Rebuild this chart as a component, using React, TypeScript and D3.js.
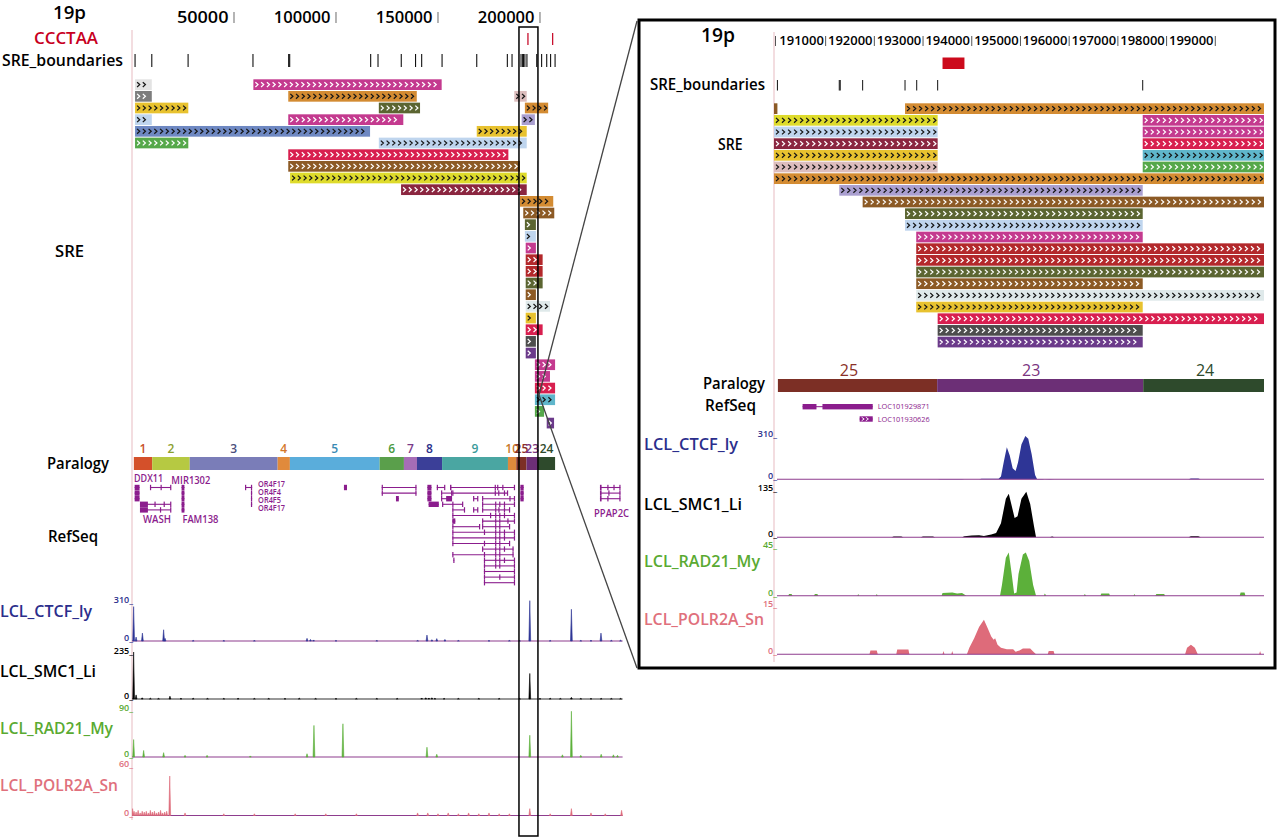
import React from 'react';
import * as d3 from 'd3';

// ---------------- DATA ----------------
const LEFT_DOMAIN = [0, 240500];
const RIGHT_DOMAIN = [189940, 200000];

const LEFT_TICKS = [50000, 100000, 150000, 200000];
const RIGHT_TICKS = [191000, 192000, 193000, 194000, 195000, 196000, 197000, 198000, 199000];

const CCCTAA_LEFT = [194100, 206200];
const CCCTAA_RIGHT: [number, number][] = [[193400, 193850]];

const BOUNDARIES_LEFT = [1500, 9700, 27500, 59300, 76800, 77300, 117000, 120600, 132000, 139000, 142000,
  152000, 169000, 184000, 186300, 190700, 191500, 191900, 192600, 193600, 198400, 200800, 203300, 205200, 207400];
const BOUNDARIES_RIGHT = [190010, 191280, 191300, 191760, 192630, 192870, 193300, 197510];

// [row, family, start, end]
const SRE_LEFT: [number, string, number, number][] = [
  [0, 'gray', 1500, 9700], [0, 'magenta', 59500, 151800],
  [1, 'darkgray', 1500, 9700], [1, 'ochre', 76600, 139600], [1, 'rose', 187400, 193500],
  [2, 'gold', 1500, 27600], [2, 'olive', 121000, 141200], [2, 'ochre', 192600, 204000],
  [3, 'lightblue', 1500, 9700], [3, 'magenta', 76600, 133000], [3, 'lavender', 191000, 197500],
  [4, 'steel', 1500, 116700], [4, 'gold', 169000, 193500],
  [5, 'green', 1500, 27600], [5, 'lightblue', 121000, 193500],
  [6, 'crimson', 76600, 184500],
  [7, 'brown', 76600, 190200],
  [8, 'lime', 77500, 193500],
  [9, 'maroon', 131900, 193500],
  [10, 'ochre', 190200, 206500],
  [11, 'brown', 191800, 207000],
  [12, 'olive', 192600, 198000],
  [13, 'lightblue', 192600, 198000],
  [14, 'magenta', 193000, 198000],
  [15, 'firebrick', 193000, 201300],
  [16, 'firebrick', 193000, 201300],
  [17, 'olive', 193000, 201300],
  [18, 'brown', 193000, 198000],
  [19, 'azure', 193000, 204900],
  [20, 'gold', 193000, 198000],
  [21, 'crimson', 193000, 201300],
  [22, 'charcoal', 193000, 198000],
  [23, 'purple', 193000, 198000],
  [24, 'magenta', 197500, 207400],
  [25, 'magenta', 197500, 204900],
  [26, 'crimson', 197500, 207400],
  [27, 'teal', 197500, 207400],
  [28, 'green', 197500, 202000],
  [29, 'purple', 203300, 206900],
];

const SRE_RIGHT: [number, string, number, number][] = [
  [0, 'brown', 189940, 190010], [0, 'ochre', 192630, 200000],
  [1, 'lime', 189940, 193300], [1, 'magenta', 197510, 200000],
  [2, 'lightblue', 189940, 193300], [2, 'magenta', 197510, 200000],
  [3, 'maroon', 189940, 193300], [3, 'crimson', 197510, 200000],
  [4, 'gold', 189940, 193300], [4, 'teal', 197510, 200000],
  [5, 'rose', 189940, 193300], [5, 'green', 197510, 200000],
  [6, 'ochre', 189940, 200000],
  [7, 'lavender', 191280, 197510],
  [8, 'brown', 191760, 200000],
  [9, 'olive', 192630, 197510],
  [10, 'lightblue', 192630, 197510],
  [11, 'magenta', 192860, 197510],
  [12, 'firebrick', 192860, 200000],
  [13, 'firebrick', 192860, 200000],
  [14, 'olive', 192860, 200000],
  [15, 'brown', 192860, 197510],
  [16, 'azure', 192860, 200000],
  [17, 'gold', 192860, 197510],
  [18, 'crimson', 193300, 200000],
  [19, 'charcoal', 193300, 197510],
  [20, 'purple', 193300, 197510],
];

// [label, start, end]
const PARALOGY_LEFT: [string, number, number][] = [
  ['1', 900, 9900], ['2', 9900, 28300], ['3', 28300, 71400], ['4', 71400, 77400], ['5', 77400, 121400],
  ['6', 121400, 133300], ['7', 133300, 139700], ['8', 139700, 152000], ['9', 152000, 184300],
  ['10', 184300, 188400], ['25', 188400, 193400], ['23', 193400, 199000], ['24', 199000, 207400],
];
// [label, start, end, label position]
const PARALOGY_RIGHT: [string, number, number, number][] = [
  ['25', 190020, 193290, 191480], ['23', 193290, 197520, 195220], ['24', 197520, 200000, 198790],
];

// RefSeq transcripts: [row, start, end, exons]
const REFSEQ_LEFT: [number, number, number, [number, number][]][] = [
  [0, 1300, 3700, [[1300, 3700]]], [1, 1300, 3700, [[1300, 3700]]], [2, 1300, 3700, [[1300, 3700]]],
  [0, 8800, 19100, [[8800, 9300], [14000, 14500], [18700, 19100]]],
  [3, 3900, 19100, [[3900, 7800], [11000, 11400], [15500, 15900], [18700, 19100]]],
  [4, 3900, 19100, [[3900, 7800], [13700, 14100], [18700, 19100]]],
  [0, 24300, 25700, [[24300, 25700]]], [1, 24300, 25700, [[24300, 25700]]], [2, 24300, 25700, [[24300, 25700]]],
  [3, 24300, 25700, [[24300, 25700]]], [4, 24300, 25700, [[24300, 25700]]],
  [0, 55400, 58900, [[55400, 55700], [58300, 58900]]], [1, 58300, 58900, [[58300, 58900]]],
  [2, 58300, 58900, [[58300, 58900]]], [3, 58300, 58900, [[58300, 58900]]],
  [0, 103900, 105400, [[103900, 105400]]],
  [0, 122400, 139400, [[122400, 122900], [138900, 139400]]],
  [1, 122400, 139400, [[122400, 122900], [138900, 139400]]],
  [2, 129400, 130800, [[129400, 130800]]],
  [0, 144800, 146800, [[144800, 146800]]], [1, 144800, 146800, [[144800, 146800]]],
  [2, 144800, 146800, [[144800, 146800]]], [3, 145400, 150400, [[145400, 150400]]],
  [0, 149400, 153400, [[149400, 149800], [153000, 153400]]],
  [0, 155900, 187700, [[155900, 156600], [177800, 178300], [179000, 179500], [181500, 182000], [187200, 187700]]],
  [1, 151500, 156900, [[151500, 152000], [156400, 156900]]],
  [1, 157000, 184300, [[157000, 157500], [177800, 178300], [179500, 180000], [182300, 182800], [183800, 184300]]],
  [2, 151500, 156900, [[151500, 152000], [154000, 156900]]],
  [2, 167200, 169600, [[167200, 167600], [169200, 169600]]],
  [2, 171600, 187700, [[171600, 172100], [185000, 185500], [187200, 187700]]],
  [3, 152000, 162300, [[152000, 152500], [157000, 157500], [161800, 162300]]],
  [3, 171600, 187700, [[171600, 172100], [178000, 178500], [180000, 180500], [182300, 182800], [187200, 187700]]],
  [4, 157000, 163200, [[157000, 157500], [162700, 163200]]],
  [4, 167200, 169600, [[167200, 167600], [169200, 169600]]],
  [4, 171600, 185300, [[171600, 172100], [178000, 178500], [179600, 180100], [182300, 182800], [184800, 185300]]],
  [5, 157000, 187700, [[157000, 157500], [175500, 176000], [178000, 178500], [180000, 180500], [182300, 182800], [187200, 187700]]],
  [6, 157000, 158500, [[157000, 158500]]],
  [6, 171600, 187700, [[171600, 172100], [178000, 178500], [180000, 180500], [184000, 184500], [187200, 187700]]],
  [7, 157000, 170600, [[157000, 157500], [170100, 170600]]],
  [7, 171600, 185300, [[171600, 172100], [178000, 178500], [180000, 180500], [184800, 185300]]],
  [8, 157000, 187700, [[157000, 157500], [172500, 173000], [178000, 178500], [180000, 180500], [182300, 182800], [187200, 187700]]],
  [9, 157000, 187700, [[157000, 157500], [178000, 178500], [180000, 180500], [182300, 182800], [187200, 187700]]],
  [10, 157000, 185300, [[157000, 157500], [172500, 173000], [178000, 178500], [180000, 180500], [184800, 185300]]],
  [11, 171600, 187000, [[171600, 172100], [178000, 178500], [180000, 180500], [182300, 182800], [186500, 187000]]],
  [12, 157000, 187000, [[157000, 157500], [172500, 173000], [178000, 178500], [180000, 180500], [186500, 187000]]],
  [13, 157500, 158000, [[157500, 158000]]],
  [13, 172500, 187700, [[172500, 173000], [178000, 178500], [180000, 180500], [182300, 182800], [187200, 187700]]],
  [14, 172500, 187700, [[172500, 173000], [178000, 178500], [180000, 180500], [187200, 187700]]],
  [15, 172500, 187700, [[172500, 173000], [187200, 187700]]],
  [16, 172500, 187700, [[172500, 173000], [180000, 180500], [187200, 187700]]],
  [17, 172500, 187700, [[172500, 173000], [187200, 187700]]],
  [0, 190400, 192000, [[190400, 192000]]], [1, 190400, 192000, [[190400, 192000]]], [2, 190400, 192000, [[190400, 192000]]],
  [0, 229400, 239400, [[229400, 230200], [233000, 233600], [236000, 236500], [238900, 239400]]],
  [1, 229400, 239400, [[229400, 230200], [233500, 234000], [238900, 239400]]],
  [2, 229400, 239400, [[229400, 230200], [233000, 233600], [238900, 239400]]],
];
// [name, position, row]
const REFSEQ_LEFT_LABELS: [string, number, number][] = [
  ['DDX11', 1000, -1.7], ['MIR1302', 19300, -1.3], ['WASH', 5400, 5.7], ['FAM138', 24700, 5.7],
  ['OR4F17', 61800, -0.6], ['OR4F4', 61800, 0.85], ['OR4F5', 61800, 2.25], ['OR4F17', 61800, 3.7],
  ['PPAP2C', 226500, 4.7],
];

const REFSEQ_RIGHT = [
  { name: 'LOC101929871', start: 190527, end: 191967, exons: [[190527, 190812], [190935, 191967]] as [number, number][], strand: 0 },
  { name: 'LOC101930626', start: 191698, end: 191967, exons: [[191698, 191967]] as [number, number][], strand: 1 },
];

// Signal tracks, overview: [position, value]
const CTCF_LEFT: [number, number][] = [[800, 260], [2000, 30], [5100, 60], [15500, 85], [16200, 20], [30000, 4], [45000, 3],
  [60000, 3], [85800, 20], [87500, 12], [89000, 8], [100000, 4], [120000, 3], [140000, 4], [144600, 45], [147000, 10],
  [149400, 18], [153400, 12], [160000, 4], [175000, 3], [185000, 4], [190000, 3], [195000, 305], [205000, 4],
  [215400, 240], [220000, 4], [225000, 5], [229900, 60], [235000, 5], [239500, 6]];
const SMC1_LEFT: [number, number][] = [[800, 230], [2000, 20], [5000, 6], [9000, 4], [13000, 3], [18600, 14], [24000, 4],
  [30000, 4], [37000, 3], [45000, 3], [52000, 4], [60000, 3], [67000, 3], [75000, 3], [82000, 4], [90000, 3], [100000, 3],
  [110000, 3], [120000, 3], [130000, 3], [142000, 5], [144000, 6], [145500, 5], [147000, 6], [148500, 4], [153000, 3],
  [160000, 3], [170000, 3], [180000, 3], [190000, 3], [195000, 125], [200000, 3], [205000, 4], [210000, 3], [215400, 8],
  [220000, 3], [225000, 3], [230000, 3], [235000, 3], [239500, 3]];
const RAD21_LEFT: [number, number][] = [[800, 32], [5700, 12], [15500, 8], [26000, 3], [36800, 3], [58000, 2], [85800, 6],
  [89200, 58], [103400, 61], [144600, 18], [149400, 5], [195000, 40], [211000, 4], [215400, 84], [220000, 3],
  [230000, 5], [236000, 4], [238000, 3]];
const POLR2A_LEFT: [number, number][] = [[300, 8], [1000, 5], [2000, 4], [3000, 6], [4000, 3], [5000, 5], [6000, 4],
  [7000, 5], [8000, 3], [9000, 6], [10000, 4], [11000, 5], [12000, 3], [13000, 4], [14000, 6], [15000, 3], [16000, 4],
  [17000, 5], [18500, 46], [26000, 3], [45000, 2], [60000, 2], [80000, 2], [95000, 2], [110000, 2], [140000, 3],
  [145000, 3], [150000, 2], [155000, 3], [160000, 2], [165000, 3], [170000, 2], [175000, 3], [180000, 2], [185000, 2],
  [195000, 8], [205000, 2], [215400, 8], [225000, 3], [232000, 2], [240000, 6]];

// Signal tracks, zoom: [position, value]
const CTCF_RIGHT: [number, number][] = [[189940, 0], [193300, 0], [193350, 2], [193800, 2], [193850, 0], [194150, 0],
  [194200, 4], [194550, 4], [194600, 20], [194660, 130], [194720, 230], [194780, 170], [194840, 80], [194900, 60],
  [194950, 120], [195020, 250], [195100, 310], [195160, 290], [195230, 180], [195300, 30], [195340, 3], [195450, 3],
  [195500, 0], [195600, 3], [195700, 0], [198450, 0], [198500, 5], [198650, 5], [198700, 0], [200000, 0]];
const SMC1_RIGHT: [number, number][] = [[189940, 0], [192350, 0], [192400, 2], [192550, 2], [192600, 0], [192950, 0],
  [193000, 2], [193200, 2], [193250, 0], [193800, 0], [193850, 3], [194000, 5], [194150, 6], [194250, 4], [194400, 8],
  [194500, 12], [194600, 40], [194700, 110], [194760, 124], [194820, 90], [194880, 55], [194940, 60], [195020, 110],
  [195120, 130], [195200, 95], [195280, 30], [195320, 0], [195600, 0], [195650, 2], [195700, 0], [198450, 0],
  [198500, 3], [198650, 3], [198700, 0], [200000, 0]];
const RAD21_RIGHT: [number, number][] = [[189940, 0], [190230, 0], [190250, 1.5], [190300, 1.5], [190320, 0], [190760, 0],
  [190780, 1.5], [190830, 1.5], [190850, 0], [191650, 0], [191670, 1.5], [191690, 0], [192030, 0], [192050, 1.5],
  [192070, 0], [193380, 0], [193400, 2.5], [193600, 3], [193700, 2], [193800, 2.5], [193890, 0], [194580, 0],
  [194620, 10], [194700, 35], [194760, 40], [194820, 20], [194870, 2], [194920, 3], [194960, 20], [195050, 38],
  [195110, 40], [195180, 32], [195260, 10], [195320, 0], [195480, 0], [195500, 2], [195530, 0], [196300, 0],
  [196320, 1.5], [196350, 0], [196640, 0], [196660, 2], [196820, 2], [196840, 0], [197320, 0], [197340, 1.5],
  [197360, 0], [197770, 0], [197790, 1.5], [197950, 1.5], [197970, 0], [199500, 0], [199520, 3], [199600, 3],
  [199620, 0], [200000, 0]];
const POLR2A_RIGHT: [number, number][] = [[189940, 0], [191900, 0], [191920, 1.2], [192050, 1.2], [192070, 0], [192450, 0],
  [192470, 1.5], [192700, 1.5], [192720, 0], [193400, 0], [193420, 1], [193440, 0], [193580, 0], [193600, 1],
  [193620, 0], [193900, 0], [193950, 2], [194050, 5], [194150, 8.5], [194250, 10.7], [194330, 8], [194400, 5.5],
  [194450, 4.5], [194480, 5], [194530, 3], [194600, 2], [194720, 1.6], [194850, 1.6], [194900, 0.8], [194980, 1.2],
  [195050, 1.8], [195200, 1.8], [195250, 1], [195320, 0], [195560, 0], [195580, 1], [195680, 1], [195700, 0],
  [198380, 0], [198420, 2], [198500, 3], [198580, 2], [198640, 0], [199900, 0], [199920, 1], [199940, 0], [200000, 0]];

const TRACK_NAMES = ['LCL_CTCF_ly', 'LCL_SMC1_Li', 'LCL_RAD21_My', 'LCL_POLR2A_Sn'];
const TRACK_MAX_LEFT = [310, 235, 90, 60];
const TRACK_MAX_RIGHT = [310, 135, 45, 15];

// ---------------- STYLE ----------------
const FONT = "'Open Sans', 'Liberation Sans', Arial, sans-serif";
const SRE_PALETTE: Record<string, string> = {
  gray: '#e3e3e3', darkgray: '#7d7d7d', magenta: '#c43a8f', ochre: '#d38b32', rose: '#dcbdbd', gold: '#e8c22f',
  olive: '#5b6531', lightblue: '#bfd5ee', lavender: '#aa9fd0', steel: '#6e88c2', green: '#55a84a', crimson: '#d81f4f',
  brown: '#8c5a25', lime: '#dedb2b', maroon: '#8b2640', firebrick: '#b3282b', azure: '#dfe9ea', charcoal: '#4d4d4d',
  purple: '#6b3a8a', teal: '#5fb6cb',
};
const LIGHT_FAMILIES = new Set(['gray', 'ochre', 'rose', 'gold', 'lightblue', 'lavender', 'steel', 'lime', 'azure', 'teal']);
const PARA_FILL: Record<string, string> = {
  '1': '#d4502a', '2': '#b6c942', '3': '#7a7db8', '4': '#e08a3c', '5': '#5aaddb', '6': '#5a9f4b', '7': '#a66db6',
  '8': '#3b3f98', '9': '#4aa6a2', '10': '#de8a3c', '25': '#7c2f25', '23': '#6c2f76', '24': '#2e4a2c',
};
const PARA_TEXT: Record<string, string> = {
  '1': '#c8502a', '2': '#8aa02e', '3': '#4b4f7c', '4': '#d4782a', '5': '#3a8ab4', '6': '#4a9a40', '7': '#7a3a8a',
  '8': '#2a2f8a', '9': '#3a9a9a', '10': '#c8782a', '25': '#8a3028', '23': '#7a3480', '24': '#2e4a2c',
};
const TRACK_COLORS = ['#2e3596', '#000000', '#5cb03a', '#de6b7a'];
const TRACK_TEXT = ['#2b2e8c', '#000000', '#5aaa32', '#e0707c'];
const GENE = '#8b1d8d';
const BASELINE = '#8e3d8e';
const GENE_LABEL_LEN: Record<string, number> = { DDX11: 29, MIR1302: 39, WASH: 28, FAM138: 36, OR4F17: 27, OR4F4: 23, OR4F5: 23, PPAP2C: 35 };
const GENE_LABEL_SIZE: Record<string, number> = { DDX11: 11, MIR1302: 11, WASH: 11, FAM138: 11, OR4F17: 8, OR4F4: 8, OR4F5: 8, PPAP2C: 10 };

function chevrons(x0: number, x1: number, yc: number, pitch: number, hh = 2.4) {
  let d = '';
  for (let x = x0 + 2; x + 3 <= x1 - 1; x += pitch) d += `M${x.toFixed(1)},${(yc - hh).toFixed(1)}L${(x + 2.6).toFixed(1)},${yc.toFixed(1)}L${x.toFixed(1)},${(yc + hh).toFixed(1)}`;
  return d;
}

function SreBars({ data, x, top, pitch, h, cp }: any) {
  return (
    <g>
      {data.map(([row, fam, s, e]: [number, string, number, number], i: number) => {
        const x0 = x(s), x1 = x(e), y = top + row * pitch;
        return (
          <g key={i}>
            <rect x={x0} y={y} width={Math.max(0, x1 - x0)} height={h} fill={SRE_PALETTE[fam]} />
            {x1 - x0 > 6 && (
              <path d={chevrons(x0, x1, y + h / 2, cp)} fill="none" stroke={LIGHT_FAMILIES.has(fam) ? '#161616' : '#ffffff'} strokeWidth={1.25} />
            )}
          </g>
        );
      })}
    </g>
  );
}

function Spikes({ data, x, top, base, max, color }: any) {
  const y = d3.scaleLinear().domain([0, max]).range([base, top]).clamp(true);
  const d = data.map(([p, v]: [number, number]) => {
    const xp = x(p);
    return `M${xp - 0.9},${base}L${xp},${y(v)}L${xp + 0.9},${base}Z`;
  }).join('');
  return <path d={d} fill={color} stroke={color} strokeWidth={0.6} />;
}

function AreaTrack({ data, x, top, base, max, color }: any) {
  const y = d3.scaleLinear().domain([0, max]).range([base, top]).clamp(true);
  const area = d3.area<[number, number]>().x((d) => x(d[0])).y0(base).y1((d) => y(d[1])).curve(d3.curveLinear);
  return <path d={area(data) || ''} fill={color} />;
}

function T({ x, y, s, fill = '#000', anchor = 'start', len, w = 600, children }: any) {
  return (
    <text x={x} y={y} fontSize={s} fill={fill} textAnchor={anchor} fontWeight={w}
      {...(len ? { textLength: len, lengthAdjust: 'spacingAndGlyphs' } : {})}>{children}</text>
  );
}

export default function App() {
  const xL = d3.scaleLinear().domain(LEFT_DOMAIN).range([132, 622.6]);
  const xR = d3.scaleLinear().domain(RIGHT_DOMAIN).range([774, 1264]);

  const leftTracks = [{ top: 600, base: 641 }, { top: 651, base: 699 }, { top: 708, base: 757 }, { top: 764, base: 815.5 }];
  const rightTracks = [{ top: 436, base: 479.3 }, { top: 490, base: 537.3 }, { top: 547, base: 595.7 }, { top: 606, base: 654.3 }];
  const leftData = [CTCF_LEFT, SMC1_LEFT, RAD21_LEFT, POLR2A_LEFT];
  const rightData = [CTCF_RIGHT, SMC1_RIGHT, RAD21_RIGHT, POLR2A_RIGHT];
  const leftLabelY = [616.5, 676.5, 734, 791];
  const rightLabelY = [450, 509.5, 567, 624.5];
  const leftLabelLen = [92, 96, 113, 118];
  const rightLabelLen = [94, 98, 116, 120];

  const geneRowY = (r: number) => 487.5 + r * 5.6;

  return (
    <svg width={1280} height={838} style={{ position: 'absolute', left: 0, top: 0, display: 'block', background: '#fff' }} fontFamily={FONT}>
      <defs>
        <clipPath id="clipR"><rect x={774} y={0} width={490} height={838} /></clipPath>
        <clipPath id="clipL"><rect x={132} y={0} width={495} height={838} /></clipPath>
      </defs>
      <rect x={0} y={0} width={1280} height={838} fill="#fff" />

      {/* ============ LEFT OVERVIEW ============ */}
      <line x1={132} x2={132} y1={30} y2={820} stroke="#ebc6cc" strokeWidth={1.2} />
      <T x={53} y={19} s={18} len={33}>19p</T>
      {LEFT_TICKS.map((t) => (
        <g key={t}>
          <T x={xL(t) - 5.5} y={23} s={16} anchor="end" len={String(t).length === 5 ? 51.6 : 56.7}>{t}</T>
          <line x1={xL(t)} x2={xL(t)} y1={12} y2={23} stroke="#777" strokeWidth={1.1} />
        </g>
      ))}
      <T x={34} y={43.5} s={16} fill="#c8001e" len={64}>CCCTAA</T>
      {CCCTAA_LEFT.map((p, i) => (
        <line key={i} x1={xL(p)} x2={xL(p)} y1={33} y2={45} stroke="#c8102e" strokeWidth={1.3} />
      ))}
      <T x={2} y={66} s={15.5} len={121}>SRE_boundaries</T>
      {BOUNDARIES_LEFT.map((p, i) => (
        <line key={i} x1={xL(p)} x2={xL(p)} y1={54} y2={67} stroke="#111" strokeWidth={1.1} />
      ))}
      <T x={55} y={257} s={16} len={29}>SRE</T>
      <SreBars data={SRE_LEFT} x={xL} top={79.3} pitch={11.67} h={10.7} cp={5.75} />

      {/* paralogy */}
      <T x={47} y={469} s={16} len={62}>Paralogy</T>
      {PARALOGY_LEFT.map(([lab, s, e]) => (
        <g key={lab}>
          <rect x={xL(s)} y={457} width={xL(e) - xL(s)} height={13} fill={PARA_FILL[lab]} />
          <T x={(xL(s) + xL(e)) / 2} y={453} s={12} anchor="middle" fill={PARA_TEXT[lab]} w={600}>{lab}</T>
        </g>
      ))}

      {/* refseq */}
      <T x={48} y={542} s={16} len={50}>RefSeq</T>
      {REFSEQ_LEFT.map(([row, s, e, exons], i) => {
        const yc = geneRowY(row);
        return (
          <g key={i}>
            <line x1={xL(s)} x2={xL(e)} y1={yc} y2={yc} stroke={GENE} strokeWidth={1.1} />
            {exons.map(([a, b], j) => (
              <rect key={j} x={xL(a)} y={yc - 2.7} width={Math.max(1.2, xL(b) - xL(a))} height={5.4} fill={GENE} />
            ))}
          </g>
        );
      })}
      {REFSEQ_LEFT_LABELS.map(([name, p, row], i) => (
        <T key={i} x={xL(p)} y={geneRowY(row) + GENE_LABEL_SIZE[name] * 0.36} s={GENE_LABEL_SIZE[name]} fill={GENE} w={600}
          len={GENE_LABEL_LEN[name]}>{name}</T>
      ))}

      {/* signals */}
      {leftTracks.map((tr, i) => (
        <g key={i}>
          <T x={0} y={leftLabelY[i]} s={16} fill={TRACK_TEXT[i]} len={leftLabelLen[i]}>{TRACK_NAMES[i]}</T>
          <T x={133} y={tr.top + 2.5} s={9} anchor="end" fill={TRACK_TEXT[i]}>{TRACK_MAX_LEFT[i] + '_'}</T>
          <T x={133} y={tr.base} s={9} anchor="end" fill={TRACK_TEXT[i]}>0_</T>
          <line x1={132} x2={622.6} y1={tr.base} y2={tr.base} stroke={i === 1 ? '#333' : BASELINE} strokeWidth={1.1} />
          <g clipPath="url(#clipL)">
            <Spikes data={leftData[i]} x={xL} top={tr.top} base={tr.base} max={TRACK_MAX_LEFT[i]} color={TRACK_COLORS[i]} />
          </g>
        </g>
      ))}

      {/* zoom box */}
      <rect x={xL(189700)} y={27} width={xL(199000) - xL(189700)} height={809} fill="none" stroke="#000" strokeWidth={1.5} />
      <line x1={637} y1={21} x2={539} y2={395} stroke="#444" strokeWidth={1.3} />
      <line x1={637} y1={668} x2={539} y2={395} stroke="#444" strokeWidth={1.3} />

      {/* ============ RIGHT ZOOM ============ */}
      <rect x={639} y={20} width={636} height={648} fill="#fff" stroke="#000" strokeWidth={3} />
      <line x1={774} x2={774} y1={32} y2={662} stroke="#ebc6cc" strokeWidth={1.2} />
      <T x={701} y={42} s={19} len={34}>19p</T>
      <line x1={775.5} x2={775.5} y1={36} y2={46} stroke="#555" strokeWidth={1} />
      {RIGHT_TICKS.map((t) => (
        <g key={t}>
          <T x={xR(t) - 1.8} y={45} s={12.5} anchor="end" w={600} len={44.5}>{t}</T>
          <line x1={xR(t)} x2={xR(t)} y1={36} y2={46} stroke="#555" strokeWidth={1} />
        </g>
      ))}
      {CCCTAA_RIGHT.map(([s, e], i) => (
        <rect key={i} x={xR(s)} y={57.5} width={xR(e) - xR(s)} height={11.5} fill="#cc0a1c" />
      ))}
      <T x={650} y={90} s={15.5} len={115}>SRE_boundaries</T>
      {BOUNDARIES_RIGHT.map((p, i) => (
        <line key={i} x1={xR(p)} x2={xR(p)} y1={80} y2={90.5} stroke="#111" strokeWidth={1} />
      ))}
      <T x={718} y={150} s={16} len={24.5}>SRE</T>
      <g clipPath="url(#clipR)">
        <SreBars data={SRE_RIGHT} x={xR} top={103.3} pitch={11.67} h={10.7} cp={6.05} />
      </g>

      <T x={703} y={389} s={16} len={62}>Paralogy</T>
      {PARALOGY_RIGHT.map(([lab, s, e, lp]) => (
        <g key={lab}>
          <rect x={xR(s)} y={379} width={xR(e) - xR(s)} height={13} fill={PARA_FILL[lab]} />
          <T x={xR(lp)} y={376} s={16} anchor="middle" fill={PARA_TEXT[lab]} w={500}>{lab}</T>
        </g>
      ))}
      <T x={705} y={411} s={16} len={51}>RefSeq</T>
      {REFSEQ_RIGHT.map((g, i) => {
        const yc = i === 0 ? 406.7 : 419;
        return (
          <g key={g.name}>
            <line x1={xR(g.start)} x2={xR(g.end)} y1={yc} y2={yc} stroke={GENE} strokeWidth={1} />
            {g.exons.map(([a, b], j) => (
              <rect key={j} x={xR(a)} y={yc - 2.7} width={xR(b) - xR(a)} height={5.4} fill={GENE} />
            ))}
            {g.strand === 1 && (
              <path d={chevrons(xR(g.start), xR(g.end), yc, 4.2, 1.8)} fill="none" stroke="#fff" strokeWidth={0.9} />
            )}
            <T x={xR(g.end) + 5} y={yc + 2.7} s={7.6} fill={GENE} len={52} w={500}>{g.name}</T>
          </g>
        );
      })}

      {rightTracks.map((tr, i) => (
        <g key={i}>
          <T x={644} y={rightLabelY[i]} s={16} fill={TRACK_TEXT[i]} len={rightLabelLen[i]}>{TRACK_NAMES[i]}</T>
          <T x={777} y={tr.top + 0.5} s={9} anchor="end" fill={TRACK_TEXT[i]}>{TRACK_MAX_RIGHT[i] + '_'}</T>
          <T x={777} y={tr.base} s={9} anchor="end" fill={TRACK_TEXT[i]}>0_</T>
          <g clipPath="url(#clipR)">
            <AreaTrack data={rightData[i]} x={xR} top={tr.top} base={tr.base} max={TRACK_MAX_RIGHT[i]} color={TRACK_COLORS[i]} />
          </g>
          <line x1={777} x2={1264} y1={tr.base} y2={tr.base} stroke={BASELINE} strokeWidth={1.1} />
        </g>
      ))}
    </svg>
  );
}
